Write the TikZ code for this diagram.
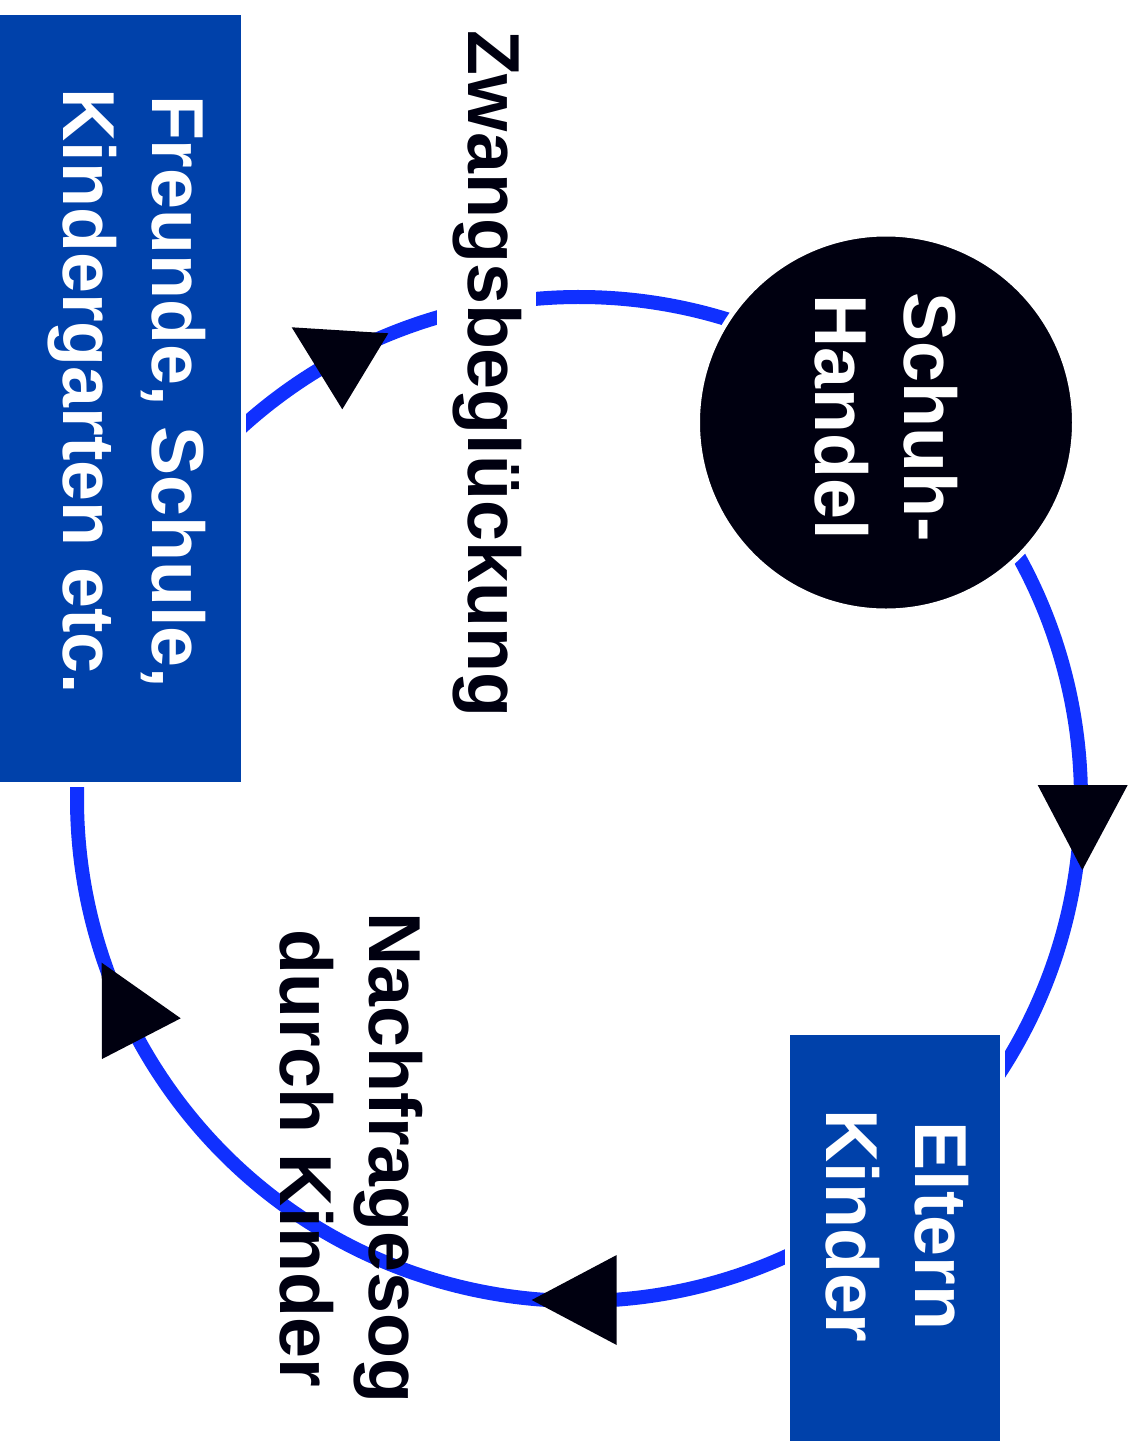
\documentclass[tikz,border=0pt]{standalone}
\usepackage{fontspec}
\setmainfont{Liberation Sans}
\definecolor{flowblue}{HTML}{1030FF}
\definecolor{boxblue}{HTML}{0041AA}
\definecolor{nearblack}{HTML}{000010}
\begin{document}
\begin{tikzpicture}[x=1pt,y=-1pt,
  flow/.style={draw=flowblue, line width=14pt},
  bluebox/.style={rectangle, fill=boxblue, draw=white, line width=5pt, inner sep=0pt},
  darkdisc/.style={circle, fill=nearblack, draw=white, line width=5pt, inner sep=0pt, minimum size=377pt},
  bigtext/.style={font=\fontsize{73.6}{89}\selectfont\bfseries, align=center, rotate=-90, inner sep=0pt},
  headtip/.style={fill=nearblack}]
\fill[white] (0,0) rectangle (1133,1452);
\useasboundingbox (0,0) rectangle (1133,1452);
\coordinate (O) at (579,799);
% connectors (circular cycle)
\draw[flow] ([shift={(-45:502)}]O) arc[start angle=-45, end angle=40, radius=502];
\draw[flow] ([shift={(55:502)}]O) arc[start angle=55, end angle=185, radius=502];
\draw[flow] ([shift={(220:502)}]O) arc[start angle=220, end angle=300, radius=502];
% shapes
\node[darkdisc] (handel) at (886,422.5) {};
\node[bluebox, minimum width=214.7pt, minimum height=411pt] (eltern) at (895.2,1237.5) {};
\node[bluebox, minimum width=256pt, minimum height=771.7pt] (freunde) at (115.5,398.6) {};
% texts
\node[bigtext, text=white] (handeltext) at (886,417.5) {Schuh-\\Handel};
\node[bigtext, text=white] (elterntext) at (897,1226) {Eltern\\Kinder};
\node[bigtext, text=white] (freundetext) at (127.25,391.5) {Freunde, Schule,\\Kindergarten etc.};
\node[bigtext, text=nearblack] (nachfrage) at (351,1158) {Nachfragesog\\durch Kinder};
\node[bigtext, text=nearblack, fill=white, inner sep=15pt, anchor=base] (zwang) at (468,373.5) {Zwangsbeglückung};
% arrowheads
\fill[headtip] (1037.7,785) -- (1127.7,785) -- (1082.3,870) -- cycle;
\fill[headtip] (531.7,1300) -- (616.7,1255) -- (616.7,1345) -- cycle;
\fill[headtip] (101.7,962.7) -- (180.7,1018.3) -- (102,1059) -- cycle;
\fill[headtip] (291.7,327.3) -- (388.3,333.3) -- (342.3,409.3) -- cycle;
\end{tikzpicture}
\end{document}
